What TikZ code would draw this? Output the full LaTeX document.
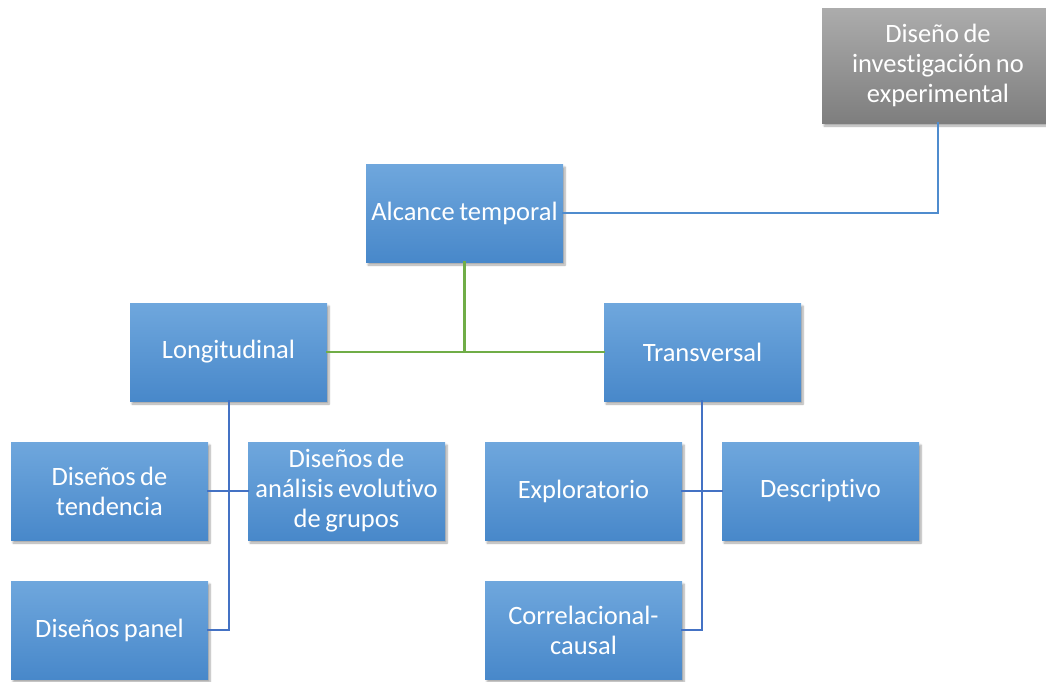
\documentclass[tikz,border=0pt]{standalone}
\usepackage{fontspec}
\setmainfont[Ligatures=NoCommon]{Carlito}
\usetikzlibrary{shadows.blur}
\definecolor{boxtop}{RGB}{111,167,221}
\definecolor{boxmid}{RGB}{85,151,216}
\definecolor{boxbot}{RGB}{72,136,202}
\definecolor{greytop}{RGB}{172,172,172}
\definecolor{greybot}{RGB}{126,126,126}
\definecolor{linkblue}{RGB}{79,140,206}
\definecolor{linkdark}{RGB}{68,114,196}
\definecolor{linkgreen}{RGB}{112,173,71}
\tikzset{
  card/.style={draw=none, anchor=north west, minimum width=197pt, minimum height=98pt,
    inner sep=1pt, outer sep=0pt, align=center, text=white, text width=195pt,
    font=\fontsize{26.5}{30}\selectfont,
    execute at begin node={\spaceskip=0.17em\relax},
    shading=axis, top color=boxtop, middle color=boxmid, bottom color=boxbot,
    blur shadow={shadow xshift=2pt, shadow yshift=-3pt, shadow blur steps=6, shadow opacity=35}},
  greycard/.style={card, top color=greytop, middle color=greytop!50!greybot, bottom color=greybot,
    minimum width=232pt, minimum height=115pt, text width=230pt},
  link/.style={line width=2pt, line cap=rect},
}
\begin{document}
\begin{tikzpicture}[x=1pt, y=-1pt]
  \useasboundingbox (0,0) rectangle (1046,681);

  % boxes
  \node[greycard] (root) at (822,8) {Diseño de\\investigación no\\experimental};
  \node[card] (alc) at (366,164) {Alcance temporal};
  \node[card] (lon) at (130,303) {Longitudinal};
  \node[card] (tra) at (604,303) {Transversal};
  \node[card] (ten) at (11,442) {Diseños de\\tendencia};
  \node[card] (evo) at (248,442) {Diseños de\\análisis evolutivo\\de grupos};
  \node[card] (pan) at (11,581) {Diseños panel};
  \node[card] (exp) at (485,442) {Exploratorio};
  \node[card] (des) at (722,442) {Descriptivo};
  \node[card] (cor) at (485,581) {Correlacional-\\causal};

  % junction points
  \coordinate (jroot) at (root.south |- alc.east);
  \coordinate (jalc) at (alc.south |- lon.east);
  \coordinate (jlon) at (229,0);
  \coordinate (jtra) at (702,0);

  % top link
  \draw[link, linkblue] (root.south) -- (jroot) -- (alc.east);
  % second level
  \draw[link, linkgreen, line width=2.4pt] (alc.south) -- (jalc);
  \draw[link, linkgreen, line width=2.4pt] (lon.east) -- (tra.west);
  % longitudinal branch
  \draw[link, linkdark] (jlon |- lon.south) -- (jlon |- pan.east) -- (pan.east);
  \draw[link, linkdark] (ten.east) -- (evo.west);
  % transversal branch
  \draw[link, linkdark] (jtra |- tra.south) -- (jtra |- cor.east) -- (cor.east);
  \draw[link, linkdark] (exp.east) -- (des.west);
\end{tikzpicture}
\end{document}
